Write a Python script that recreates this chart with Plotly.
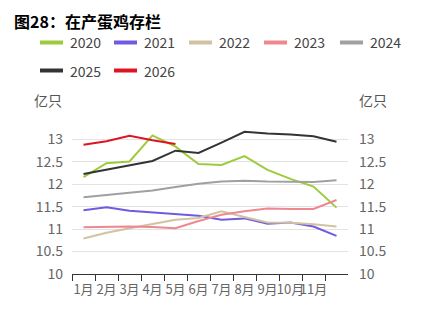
import plotly.graph_objects as go

months = list(range(1, 13))
month_labels = ["1月", "2月", "3月", "4月", "5月", "6月", "7月", "8月", "9月", "10月", "11月", ""]

s2020 = [12.16, 12.47, 12.51, 13.09, 12.84, 12.45, 12.43, 12.63, 12.32, 12.12, 11.95, 11.48]
s2021 = [11.42, 11.49, 11.41, 11.37, 11.33, 11.30, 11.21, 11.24, 11.12, 11.15, 11.06, 10.85]
s2022 = [10.79, 10.92, 11.02, 11.12, 11.21, 11.25, 11.40, 11.27, 11.15, 11.14, 11.11, 11.06]
s2023 = [11.04, 11.05, 11.06, 11.05, 11.02, 11.18, 11.32, 11.40, 11.46, 11.45, 11.45, 11.65]
s2024 = [11.71, 11.76, 11.81, 11.86, 11.94, 12.01, 12.06, 12.08, 12.06, 12.05, 12.05, 12.09]
s2025 = [12.23, 12.33, 12.42, 12.52, 12.75, 12.70, 12.93, 13.17, 13.13, 13.11, 13.07, 12.95]
s2026 = [12.88, 12.96, 13.08, 12.98, 12.90]

names = ["2020", "2021", "2022", "2023", "2024", "2025", "2026"]
values = [s2020, s2021, s2022, s2023, s2024, s2025, s2026]
colors = ["#9DCB3C", "#6E5BE0", "#D2C2A2", "#EE8890", "#A0A0A0", "#333333", "#DD1522"]

y_ticks = [10, 10.5, 11, 11.5, 12, 12.5, 13, 13.3]
y_ticktext = ["10", "10.5", "11", "11.5", "12", "12.5", "13", ""]

W, H = 440, 315
L, R, T, B = 72, 92, 126, 41
FONT = "Noto Sans CJK SC"


def px(x):
    return (x - L) / (W - L - R)


def py(y):
    return (H - B - y) / (H - T - B)


fig = go.Figure()
for name, vals, color in zip(names, values, colors):
    fig.add_trace(go.Scatter(x=months[:len(vals)], y=vals, mode="lines", name=name,
                             line=dict(color=color, width=2), showlegend=False))
fig.add_trace(go.Scatter(x=[1], y=[None], yaxis="y2", showlegend=False, hoverinfo="skip"))

shapes = []
annotations = []
# manual legend
leg_pos = [(40, 42.5), (114, 42.5), (189, 42.5), (264, 42.5), (340, 42.5), (40, 70.5), (114, 70.5)]
for (lx, ly), name, color in zip(leg_pos, names, colors):
    shapes.append(dict(type="line", xref="paper", yref="paper", x0=px(lx), x1=px(lx + 23),
                       y0=py(ly), y1=py(ly), line=dict(color=color, width=4)))
    annotations.append(dict(text=name, xref="paper", yref="paper", x=px(lx + 29), y=py(ly),
                            xanchor="left", yanchor="middle", showarrow=False, borderpad=0,
                            font=dict(size=14, color="#444", family=FONT)))

annotations.append(dict(text="<b>图28：在产蛋鸡存栏</b>", xref="paper", yref="paper",
                        x=px(13), y=py(21.5), xanchor="left", yanchor="middle", showarrow=False,
                        borderpad=0, font=dict(size=16, color="#000", family=FONT)))
annotations.append(dict(text="亿只", xref="paper", yref="paper", x=px(47.5), y=py(100),
                        xanchor="center", yanchor="middle", showarrow=False,
                        font=dict(size=14, color="#555", family=FONT)))
annotations.append(dict(text="亿只", xref="paper", yref="paper", x=px(373), y=py(100),
                        xanchor="center", yanchor="middle", showarrow=False,
                        font=dict(size=14, color="#555", family=FONT)))

fig.update_layout(
    width=W, height=H,
    margin=dict(l=L, r=R, t=T, b=B),
    paper_bgcolor="white", plot_bgcolor="white",
    font=dict(family=FONT),
    showlegend=False,
    shapes=shapes,
    annotations=annotations,
    xaxis=dict(range=[0.5, 12.5], tickmode="array", tickvals=months, ticktext=month_labels,
               tickangle=0,
               ticks="outside", ticklen=3, tickcolor="rgba(0,0,0,0)",
               showgrid=False, zeroline=False, showline=True, linecolor="#333", linewidth=1,
               tickfont=dict(size=13, color="#666", family=FONT),
               minor=dict(tickmode="array", tickvals=[m - 0.5 for m in months],
                          ticks="outside", ticklen=6, tickcolor="#333", tickwidth=1, showgrid=False)),
    yaxis=dict(range=[10, 13.3], tickmode="array", tickvals=y_ticks, ticktext=y_ticktext,
               showgrid=True, gridcolor="#E3E3E3", gridwidth=1, zeroline=False, showline=False,
               ticks="", ticklabelstandoff=8,
               tickfont=dict(size=14, color="#666", family=FONT)),
    yaxis2=dict(range=[10, 13.3], tickmode="array", tickvals=y_ticks, ticktext=y_ticktext,
                overlaying="y", side="right", showgrid=False, zeroline=False, showline=False,
                ticks="", ticklabelstandoff=10,
                tickfont=dict(size=14, color="#666", family=FONT)),
)

fig.write_html("out.html")
